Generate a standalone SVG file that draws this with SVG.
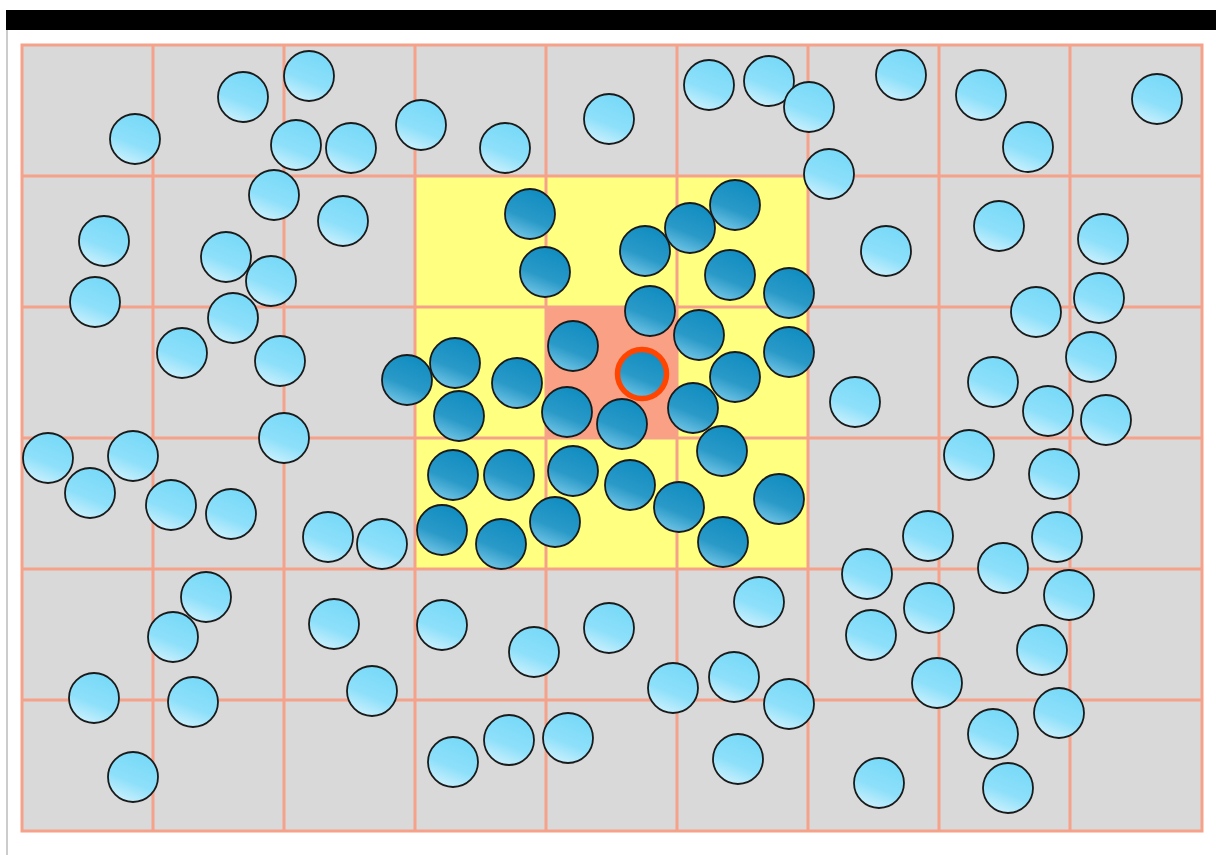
<svg xmlns="http://www.w3.org/2000/svg" width="1216" height="855" viewBox="0 0 1216 855">
<defs>
<linearGradient id="gl" x1="0.3" y1="1" x2="0.7" y2="0">
<stop offset="0" stop-color="#cdf1fd"/>
<stop offset="0.4" stop-color="#8ee0fa"/>
<stop offset="1" stop-color="#76d9f8"/>
</linearGradient>
<linearGradient id="gd" x1="0.3" y1="1" x2="0.7" y2="0">
<stop offset="0" stop-color="#74c6e6"/>
<stop offset="0.4" stop-color="#2a9ac8"/>
<stop offset="1" stop-color="#0f8cc0"/>
</linearGradient>
<style>
.cell{fill:#d9d9d9}
.yel{fill:#ffff80}
.ctr{fill:#f9a085}
.grid line,.grid rect{stroke:#f6a18a;stroke-width:3;fill:none}
.l{fill:url(#gl);stroke:#1a1a1a;stroke-width:1.8}
.d{fill:url(#gd);stroke:#1a1a1a;stroke-width:1.8}
.t{fill:url(#gd);stroke:#ff4500;stroke-width:5.5}
</style>
</defs>
<rect x="0" y="0" width="1216" height="855" fill="#ffffff"/>
<rect x="6" y="10" width="1210" height="20" fill="#000000"/>
<line x1="7" y1="30" x2="7" y2="855" stroke="#cccccc" stroke-width="2"/>
<g id="background">
<rect class="cell" x="22" y="45" width="1180" height="786"/>
<rect class="yel" x="415" y="176" width="393" height="393"/>
<rect class="ctr" x="546" y="307" width="131" height="131"/>
</g>
<g id="grid" class="grid">
<rect x="22" y="45" width="1180" height="786"/>
<line x1="153" y1="45" x2="153" y2="831"/>
<line x1="284" y1="45" x2="284" y2="831"/>
<line x1="415" y1="45" x2="415" y2="831"/>
<line x1="546" y1="45" x2="546" y2="831"/>
<line x1="677" y1="45" x2="677" y2="831"/>
<line x1="808" y1="45" x2="808" y2="831"/>
<line x1="939" y1="45" x2="939" y2="831"/>
<line x1="1070" y1="45" x2="1070" y2="831"/>
<line x1="22" y1="176" x2="1202" y2="176"/>
<line x1="22" y1="307" x2="1202" y2="307"/>
<line x1="22" y1="438" x2="1202" y2="438"/>
<line x1="22" y1="569" x2="1202" y2="569"/>
<line x1="22" y1="700" x2="1202" y2="700"/>
</g>
<g id="connectors"></g>
<g id="particles-light">
<g id="p1"><circle class="l" cx="135" cy="139" r="25"/></g>
<g id="p2"><circle class="l" cx="243" cy="97" r="25"/></g>
<g id="p3"><circle class="l" cx="309" cy="76" r="25"/></g>
<g id="p4"><circle class="l" cx="296" cy="145" r="25"/></g>
<g id="p5"><circle class="l" cx="351" cy="148" r="25"/></g>
<g id="p6"><circle class="l" cx="421" cy="125" r="25"/></g>
<g id="p7"><circle class="l" cx="505" cy="148" r="25"/></g>
<g id="p8"><circle class="l" cx="609" cy="119" r="25"/></g>
<g id="p9"><circle class="l" cx="709" cy="85" r="25"/></g>
<g id="p10"><circle class="l" cx="769" cy="81" r="25"/></g>
<g id="p11"><circle class="l" cx="809" cy="107" r="25"/></g>
<g id="p12"><circle class="l" cx="901" cy="75" r="25"/></g>
<g id="p13"><circle class="l" cx="981" cy="95" r="25"/></g>
<g id="p14"><circle class="l" cx="1028" cy="147" r="25"/></g>
<g id="p15"><circle class="l" cx="1157" cy="99" r="25"/></g>
<g id="p16"><circle class="l" cx="829" cy="174" r="25"/></g>
<g id="p17"><circle class="l" cx="274" cy="195" r="25"/></g>
<g id="p18"><circle class="l" cx="343" cy="221" r="25"/></g>
<g id="p19"><circle class="l" cx="104" cy="241" r="25"/></g>
<g id="p20"><circle class="l" cx="226" cy="257" r="25"/></g>
<g id="p21"><circle class="l" cx="271" cy="281" r="25"/></g>
<g id="p22"><circle class="l" cx="95" cy="302" r="25"/></g>
<g id="p23"><circle class="l" cx="233" cy="318" r="25"/></g>
<g id="p24"><circle class="l" cx="886" cy="251" r="25"/></g>
<g id="p25"><circle class="l" cx="999" cy="226" r="25"/></g>
<g id="p26"><circle class="l" cx="1103" cy="239" r="25"/></g>
<g id="p27"><circle class="l" cx="1099" cy="298" r="25"/></g>
<g id="p28"><circle class="l" cx="1036" cy="312" r="25"/></g>
<g id="p29"><circle class="l" cx="182" cy="353" r="25"/></g>
<g id="p30"><circle class="l" cx="280" cy="361" r="25"/></g>
<g id="p31"><circle class="l" cx="855" cy="402" r="25"/></g>
<g id="p32"><circle class="l" cx="993" cy="382" r="25"/></g>
<g id="p33"><circle class="l" cx="1091" cy="357" r="25"/></g>
<g id="p34"><circle class="l" cx="1048" cy="411" r="25"/></g>
<g id="p35"><circle class="l" cx="1106" cy="420" r="25"/></g>
<g id="p36"><circle class="l" cx="284" cy="438" r="25"/></g>
<g id="p37"><circle class="l" cx="48" cy="458" r="25"/></g>
<g id="p38"><circle class="l" cx="133" cy="456" r="25"/></g>
<g id="p39"><circle class="l" cx="90" cy="493" r="25"/></g>
<g id="p40"><circle class="l" cx="171" cy="505" r="25"/></g>
<g id="p41"><circle class="l" cx="231" cy="514" r="25"/></g>
<g id="p42"><circle class="l" cx="328" cy="537" r="25"/></g>
<g id="p43"><circle class="l" cx="382" cy="544" r="25"/></g>
<g id="p44"><circle class="l" cx="969" cy="455" r="25"/></g>
<g id="p45"><circle class="l" cx="1054" cy="474" r="25"/></g>
<g id="p46"><circle class="l" cx="928" cy="536" r="25"/></g>
<g id="p47"><circle class="l" cx="1057" cy="537" r="25"/></g>
<g id="p48"><circle class="l" cx="1003" cy="568" r="25"/></g>
<g id="p49"><circle class="l" cx="867" cy="574" r="25"/></g>
<g id="p50"><circle class="l" cx="206" cy="597" r="25"/></g>
<g id="p51"><circle class="l" cx="173" cy="637" r="25"/></g>
<g id="p52"><circle class="l" cx="334" cy="624" r="25"/></g>
<g id="p53"><circle class="l" cx="442" cy="625" r="25"/></g>
<g id="p54"><circle class="l" cx="609" cy="628" r="25"/></g>
<g id="p55"><circle class="l" cx="534" cy="652" r="25"/></g>
<g id="p56"><circle class="l" cx="759" cy="602" r="25"/></g>
<g id="p57"><circle class="l" cx="929" cy="608" r="25"/></g>
<g id="p58"><circle class="l" cx="871" cy="635" r="25"/></g>
<g id="p59"><circle class="l" cx="1069" cy="595" r="25"/></g>
<g id="p60"><circle class="l" cx="1042" cy="650" r="25"/></g>
<g id="p61"><circle class="l" cx="94" cy="698" r="25"/></g>
<g id="p62"><circle class="l" cx="193" cy="702" r="25"/></g>
<g id="p63"><circle class="l" cx="372" cy="691" r="25"/></g>
<g id="p64"><circle class="l" cx="673" cy="688" r="25"/></g>
<g id="p65"><circle class="l" cx="734" cy="677" r="25"/></g>
<g id="p66"><circle class="l" cx="937" cy="683" r="25"/></g>
<g id="p67"><circle class="l" cx="789" cy="704" r="25"/></g>
<g id="p68"><circle class="l" cx="1059" cy="713" r="25"/></g>
<g id="p69"><circle class="l" cx="993" cy="734" r="25"/></g>
<g id="p70"><circle class="l" cx="509" cy="740" r="25"/></g>
<g id="p71"><circle class="l" cx="568" cy="738" r="25"/></g>
<g id="p72"><circle class="l" cx="453" cy="762" r="25"/></g>
<g id="p73"><circle class="l" cx="738" cy="759" r="25"/></g>
<g id="p74"><circle class="l" cx="879" cy="783" r="25"/></g>
<g id="p75"><circle class="l" cx="1008" cy="788" r="25"/></g>
<g id="p76"><circle class="l" cx="133" cy="777" r="25"/></g>
</g>
<g id="particles-dark">
<g id="d1"><circle class="d" cx="530" cy="214" r="25"/></g>
<g id="d2"><circle class="d" cx="545" cy="272" r="25"/></g>
<g id="d3"><circle class="d" cx="645" cy="251" r="25"/></g>
<g id="d4"><circle class="d" cx="690" cy="228" r="25"/></g>
<g id="d5"><circle class="d" cx="735" cy="205" r="25"/></g>
<g id="d6"><circle class="d" cx="730" cy="275" r="25"/></g>
<g id="d7"><circle class="d" cx="789" cy="293" r="25"/></g>
<g id="d8"><circle class="d" cx="650" cy="311" r="25"/></g>
<g id="d9"><circle class="d" cx="699" cy="335" r="25"/></g>
<g id="d10"><circle class="d" cx="789" cy="352" r="25"/></g>
<g id="d11"><circle class="d" cx="573" cy="346" r="25"/></g>
<g id="d12"><circle class="d" cx="455" cy="363" r="25"/></g>
<g id="d13"><circle class="d" cx="407" cy="380" r="25"/></g>
<g id="d14"><circle class="d" cx="517" cy="383" r="25"/></g>
<g id="d15"><circle class="d" cx="735" cy="377" r="25"/></g>
<g id="d16"><circle class="d" cx="459" cy="416" r="25"/></g>
<g id="d17"><circle class="d" cx="567" cy="412" r="25"/></g>
<g id="d18"><circle class="d" cx="622" cy="424" r="25"/></g>
<g id="d19"><circle class="d" cx="693" cy="408" r="25"/></g>
<g id="d20"><circle class="d" cx="722" cy="451" r="25"/></g>
<g id="d21"><circle class="d" cx="453" cy="475" r="25"/></g>
<g id="d22"><circle class="d" cx="509" cy="475" r="25"/></g>
<g id="d23"><circle class="d" cx="573" cy="471" r="25"/></g>
<g id="d24"><circle class="d" cx="630" cy="485" r="25"/></g>
<g id="d25"><circle class="d" cx="679" cy="507" r="25"/></g>
<g id="d26"><circle class="d" cx="779" cy="499" r="25"/></g>
<g id="d27"><circle class="d" cx="442" cy="530" r="25"/></g>
<g id="d28"><circle class="d" cx="555" cy="522" r="25"/></g>
<g id="d29"><circle class="d" cx="501" cy="544" r="25"/></g>
<g id="d30"><circle class="d" cx="723" cy="542" r="25"/></g>
</g>
<g id="target"><circle class="t" cx="642" cy="374" r="24.5"/></g>
</svg>
